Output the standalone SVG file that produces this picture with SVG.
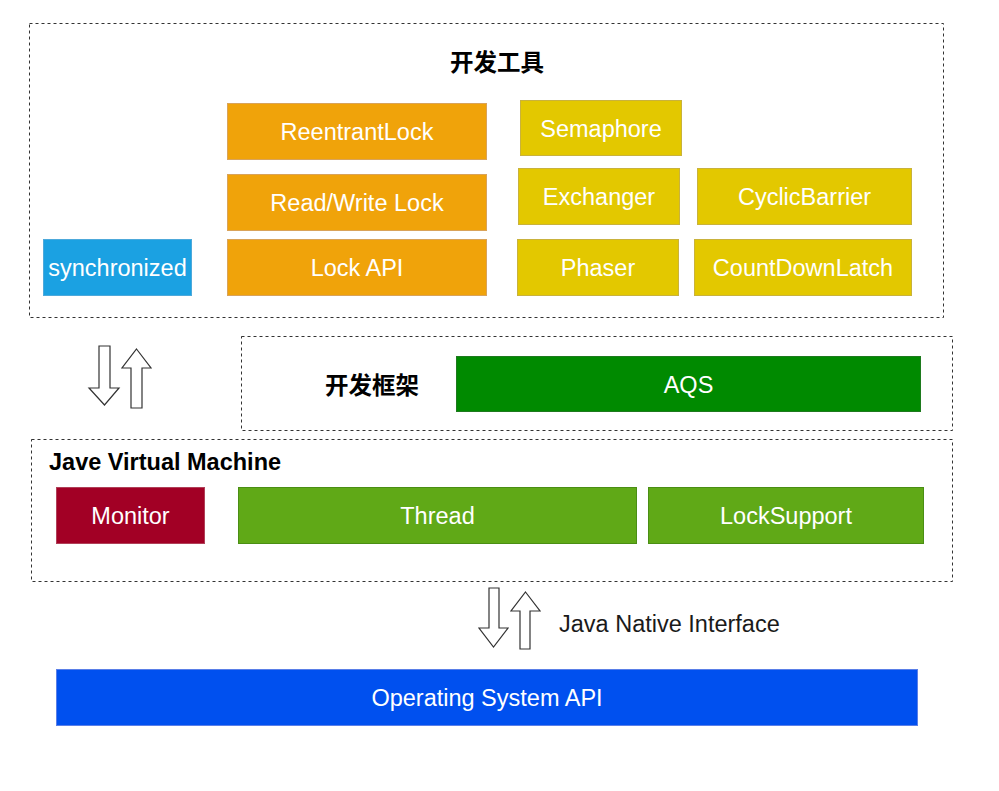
<svg xmlns="http://www.w3.org/2000/svg" width="999" height="791" viewBox="0 0 999 791">
<style>
.bg{fill:#ffffff}
.group{fill:none;stroke:#333333;stroke-width:1;stroke-dasharray:3 3}
.lbl{font-family:"Liberation Sans",Arial,sans-serif;font-size:23.5px;fill:#ffffff;text-anchor:middle}
.title{font-family:"Liberation Sans","Noto Sans CJK SC",sans-serif;font-size:23.5px;font-weight:bold;fill:#000000}
.orange{fill:#F0A30A;stroke:#D9A35A;stroke-width:1}
.yellow{fill:#E3C800;stroke:#C9B23C;stroke-width:1}
.blue{fill:#1BA1E2;stroke:#4DA9DB;stroke-width:1}
.dgreen{fill:#008A00;stroke:#1E7A1E;stroke-width:1}
.red{fill:#A20025;stroke:#B04058;stroke-width:1}
.lgreen{fill:#60A917;stroke:#4A8E14;stroke-width:1}
.os{fill:#0050EF;stroke:#5A7FE8;stroke-width:1}
.arrow{fill:#ffffff;stroke:#333333;stroke-width:1.2}
</style>
<rect class="bg" x="0" y="0" width="999" height="791"/>

<g id="group-tools">
<rect class="group" x="29.5" y="23.5" width="914" height="294"/>
<text class="title" x="497" y="70.5" text-anchor="middle">开发工具</text>
</g>
<g id="group-framework">
<rect class="group" x="241.5" y="336.5" width="711" height="94"/>
<text class="title" x="372" y="393.5" text-anchor="middle">开发框架</text>
</g>
<g id="group-jvm">
<rect class="group" x="31.5" y="439.5" width="921" height="142"/>
<text class="title" x="49" y="469.5">Jave Virtual Machine</text>
</g>

<g id="node-reentrantlock"><rect class="orange" x="227.5" y="103.5" width="259" height="56"/><text class="lbl" x="357" y="140">ReentrantLock</text></g>
<g id="node-rwlock"><rect class="orange" x="227.5" y="174.5" width="259" height="56"/><text class="lbl" x="357" y="211">Read/Write Lock</text></g>
<g id="node-lockapi"><rect class="orange" x="227.5" y="239.5" width="259" height="56"/><text class="lbl" x="357" y="276">Lock API</text></g>
<g id="node-synchronized"><rect class="blue" x="43.5" y="239.5" width="148" height="56"/><text class="lbl" x="117.5" y="276">synchronized</text></g>
<g id="node-semaphore"><rect class="yellow" x="520.5" y="100.5" width="161" height="55"/><text class="lbl" x="601" y="136.5">Semaphore</text></g>
<g id="node-exchanger"><rect class="yellow" x="518.5" y="168.5" width="161" height="56"/><text class="lbl" x="599" y="205">Exchanger</text></g>
<g id="node-cyclicbarrier"><rect class="yellow" x="697.5" y="168.5" width="214" height="56"/><text class="lbl" x="804.5" y="205">CyclicBarrier</text></g>
<g id="node-phaser"><rect class="yellow" x="517.5" y="239.5" width="161" height="56"/><text class="lbl" x="598" y="276">Phaser</text></g>
<g id="node-countdownlatch"><rect class="yellow" x="694.5" y="239.5" width="217" height="56"/><text class="lbl" x="803" y="276">CountDownLatch</text></g>
<g id="node-aqs"><rect class="dgreen" x="456.5" y="356.5" width="464" height="55"/><text class="lbl" x="688.5" y="392.5">AQS</text></g>
<g id="node-monitor"><rect class="red" x="56.5" y="487.5" width="148" height="56"/><text class="lbl" x="130.5" y="524">Monitor</text></g>
<g id="node-thread"><rect class="lgreen" x="238.5" y="487.5" width="398" height="56"/><text class="lbl" x="437.5" y="524">Thread</text></g>
<g id="node-locksupport"><rect class="lgreen" x="648.5" y="487.5" width="275" height="56"/><text class="lbl" x="786" y="524">LockSupport</text></g>
<g id="node-osapi"><rect class="os" x="56.5" y="669.5" width="861" height="56"/><text class="lbl" x="487" y="706">Operating System API</text></g>

<g id="connectors">
<polygon class="arrow" points="99,346 110,346 110,388 119,388 104.5,405 89,388 99,388"/>
<polygon class="arrow" points="136.5,349 151,368 142,368 142,408 131,408 131,368 122,368"/>
<polygon class="arrow" points="489,588 499,588 499,628 508,628 493.5,647 479,628 489,628"/>
<polygon class="arrow" points="525.5,592 540,611 530,611 530,649 520,649 520,611 511,611"/>
<text x="559" y="632" font-family="'Liberation Sans',Arial,sans-serif" font-size="23.5" fill="#1a1a1a">Java Native Interface</text>
</g>
</svg>
